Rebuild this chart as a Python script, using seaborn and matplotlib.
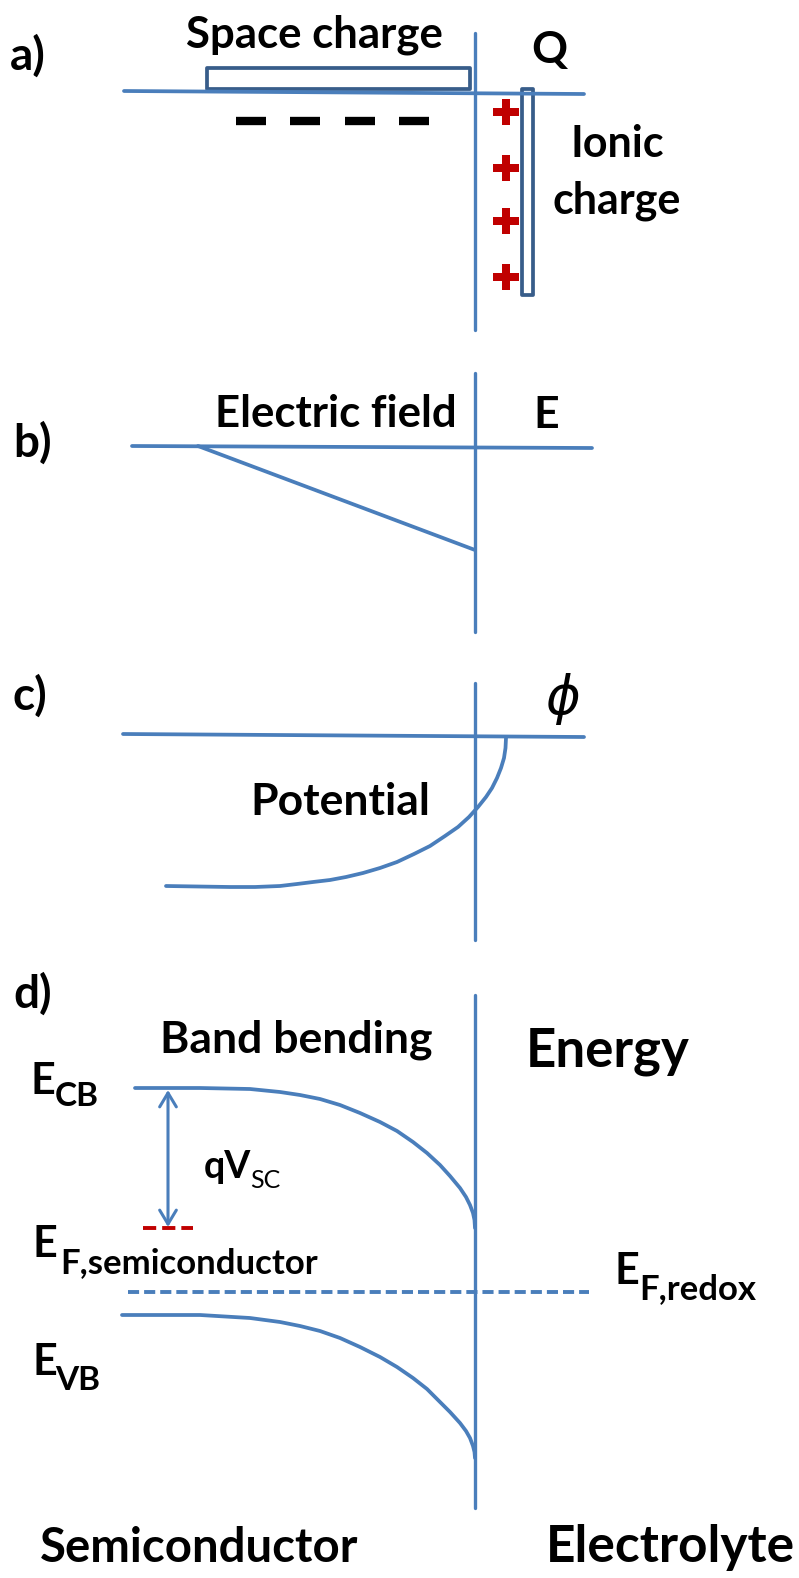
import matplotlib
matplotlib.use("Agg")
import matplotlib.pyplot as plt
import seaborn as sns
import pandas as pd
from matplotlib.patches import Rectangle

# ---------------- data (pixel units) ----------------
panel_labels = ["a)", "b)", "c)", "d)"]
quantity_labels = ["Q", "E", r"$\phi$", "Energy"]
curve_titles = ["Space charge", "Electric field", "Potential", "Band bending"]
side_labels = ["Semiconductor", "Electrolyte"]

# b) electric field profile
field_x = [132, 198, 475]
field_y = [446, 446, 550]
# c) potential profile
potential_x = [166, 230, 255, 280, 297, 313, 330, 346, 363, 380, 397, 414, 430,
               445, 458, 469, 478, 486, 492, 497, 501, 504, 505.5, 506]
potential_y = [886, 887, 887, 886, 884, 882, 880, 877, 873, 868, 862, 854, 846,
               836, 827, 817, 807, 797, 788, 778, 768, 758, 748, 738]
# d) band edges
cb_x = [135, 200, 250, 280, 300, 320, 340, 360, 380, 397, 413, 427, 440, 450,
        460, 466, 470, 473, 474.5, 475]
cb_y = [1088, 1088, 1089, 1092, 1095, 1099, 1105, 1113, 1122, 1131, 1142, 1153,
        1165, 1176, 1188, 1197, 1205, 1213, 1220, 1228]
vb_x = [122, 200, 250, 280, 300, 320, 340, 360, 380, 397, 413, 427, 440, 450,
        460, 466, 470, 473, 474.5, 475]
vb_y = [1315, 1315, 1318, 1322, 1326, 1331, 1338, 1347, 1357, 1367, 1378, 1389,
        1402, 1412, 1423, 1431, 1438, 1446, 1452, 1458]

# a) charges
plus_y = [112, 168, 221, 277]
minus_x = [251, 305, 360, 414]

# ---------------- style ----------------
sns.set_theme(style="white")
plt.rcParams["font.family"] = ["Lato", "DejaVu Sans"]
plt.rcParams["lines.scale_dashes"] = False

BLUE = "#4A7EBB"
DARK = "#385D8A"
RED = "#C00000"
LW = 2.7

fig = plt.figure(figsize=(7.99, 15.78), dpi=100)
ax = fig.add_axes([0, 0, 1, 1])
ax.set_xlim(0, 799)
ax.set_ylim(1578, 0)
ax.axis("off")


def line(xs, ys, **kw):
    df = pd.DataFrame({"x": xs, "y": ys})
    kw.setdefault("color", BLUE)
    kw.setdefault("linewidth", LW)
    sns.lineplot(data=df, x="x", y="y", sort=False, estimator=None, ax=ax,
                 legend=False, solid_joinstyle="round", **kw)


# interface (vertical) lines
IFX = 475
for y0, y1 in [(33, 330), (373, 632), (683, 940), (995, 1508)]:
    line([IFX, IFX], [y0, y1], linewidth=2.4)

# ----- a) -----
line([124, 584], [91, 94])
ax.add_patch(Rectangle((207, 68), 263, 21, fill=False, edgecolor=DARK, lw=2.7,
                       joinstyle="round"))
ax.add_patch(Rectangle((522, 89), 11, 206, fill=False, edgecolor=DARK, lw=2.7,
                       joinstyle="round"))
for mx in minus_x:
    ax.plot([mx - 15, mx + 15], [121, 121], color="black", lw=6,
            solid_capstyle="butt")
ax.plot([506] * len(plus_y), plus_y, linestyle="none", marker="P",
        markersize=18.5, color=RED, markeredgewidth=0)

# ----- b) -----
line([132, 592], [446, 448])
line(field_x[1:], field_y[1:])

# ----- c) -----
line([123, 584], [734, 737])
line(potential_x, potential_y)

# ----- d) -----
line(cb_x, cb_y)
line(vb_x, vb_y)
ax.plot([128, 589], [1292, 1292], color=BLUE, lw=2.8, dashes=(8, 3.6))
ax.plot([143, 193], [1228, 1228], color=RED, lw=2.8, dashes=(9.5, 4.3))
ax.annotate("", xy=(168, 1090), xytext=(168, 1227),
            arrowprops=dict(arrowstyle="<->,head_length=0.5,head_width=0.3",
                            color=BLUE, lw=2.2, shrinkA=0, shrinkB=0,
                            mutation_scale=20))

# ---------------- text ----------------
TK = dict(color="black", fontweight="bold")

# panel labels
for lab, (x, y) in zip(panel_labels, [(10, 70), (13, 457), (13, 710), (13, 1008)]):
    ax.text(x, y, lab, fontsize=33, ha="left", va="baseline", **TK)

ax.text(186, 47, curve_titles[0], fontsize=31.5, ha="left", va="baseline", **TK)
ax.text(215, 427, curve_titles[1], fontsize=31.5, ha="left", va="baseline", **TK)
ax.text(250, 815, curve_titles[2], fontsize=32, ha="left", va="baseline", **TK)
ax.text(160, 1052, curve_titles[3], fontsize=32, ha="left", va="baseline", **TK)

ax.text(531, 63, quantity_labels[0], fontsize=32, ha="left", va="baseline", **TK)
ax.text(533, 428, quantity_labels[1], fontsize=32, ha="left", va="baseline", **TK)
ax.text(545, 699, quantity_labels[2], fontsize=38, ha="left", va="center",
        color="black")
ax.text(526, 1067, quantity_labels[3], fontsize=38, ha="left", va="baseline", **TK)

ax.text(617, 157, "Ionic", fontsize=31, ha="center", va="baseline", **TK)
ax.text(617, 213, "charge", fontsize=31, ha="center", va="baseline", **TK)

# energy levels
def level(x, y, main, sub, subx, suby, size=31, subsize=24, subweight="bold"):
    ax.text(x, y, main, fontsize=size, ha="left", va="baseline", **TK)
    ax.text(subx, suby, sub, fontsize=subsize, ha="left", va="baseline",
            color="black", fontweight=subweight)

level(31, 1094, "E", "CB", 55, 1106)
level(33, 1257, "E", "F,semiconductor", 60, 1273, subsize=25)
level(32, 1375, "E", "VB", 55, 1390)
level(614, 1284, "E", "F,redox", 639, 1299, subsize=25)
level(204, 1178, "qV", "SC", 250, 1188, size=27, subsize=18, subweight="normal")

ax.text(40, 1562, side_labels[0], fontsize=34, ha="left", va="baseline", **TK)
ax.text(546, 1562, side_labels[1], fontsize=37, ha="left", va="baseline", **TK)

fig.savefig("out.png", dpi=100, facecolor="white")
